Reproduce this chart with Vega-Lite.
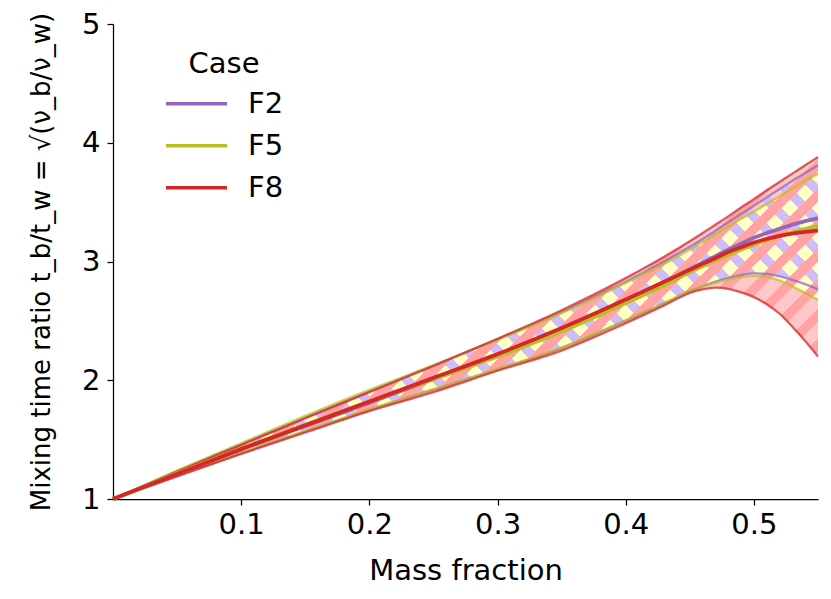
{
  "$schema": "https://vega.github.io/schema/vega-lite/v6.json",
  "autosize": {"type": "none"},
  "padding": {"left": 113, "top": 24, "right": 13, "bottom": 100},
  "width": 705,
  "height": 475,
  "background": "white",
  "config": {
    "view": {"stroke": null},
    "font": "DejaVu Sans",
    "axis": {
      "grid": false,
      "domainColor": "black",
      "tickColor": "black",
      "labelColor": "black",
      "titleColor": "black",
      "domainWidth": 1.25,
      "tickWidth": 1.25,
      "tickSize": 6,
      "labelFont": "DejaVu Sans",
      "titleFont": "DejaVu Sans",
      "labelFontSize": 29,
      "titleFontSize": 29,
      "titleFontWeight": "normal"
    },
    "legend": {
      "orient": "none",
      "legendX": 51,
      "legendY": 26,
      "titleFont": "DejaVu Sans",
      "labelFont": "DejaVu Sans",
      "titleFontSize": 29,
      "labelFontSize": 29,
      "titleFontWeight": "normal",
      "titleColor": "black",
      "labelColor": "black",
      "titleAnchor": "middle",
      "symbolType": "stroke",
      "symbolSize": 3721,
      "symbolStrokeWidth": 3.7,
      "symbolOpacity": 1,
      "labelOffset": 19,
      "clipHeight": 41.5,
      "rowPadding": 0,
      "titlePadding": 4
    }
  },
  "data": {
    "values": [
      {"case": "F2", "x": 0.0, "lo": 1.0, "mid": 1.0, "hi": 1.0},
      {"case": "F2", "x": 0.05, "lo": 1.195, "mid": 1.21, "hi": 1.235},
      {"case": "F2", "x": 0.1, "lo": 1.385, "mid": 1.42, "hi": 1.46},
      {"case": "F2", "x": 0.15, "lo": 1.57, "mid": 1.615, "hi": 1.685},
      {"case": "F2", "x": 0.2, "lo": 1.75, "mid": 1.81, "hi": 1.905},
      {"case": "F2", "x": 0.25, "lo": 1.92, "mid": 2.01, "hi": 2.125},
      {"case": "F2", "x": 0.3, "lo": 2.09, "mid": 2.21, "hi": 2.345},
      {"case": "F2", "x": 0.35, "lo": 2.27, "mid": 2.43, "hi": 2.575},
      {"case": "F2", "x": 0.4, "lo": 2.5, "mid": 2.67, "hi": 2.83},
      {"case": "F2", "x": 0.43, "lo": 2.645, "mid": 2.82, "hi": 3.0},
      {"case": "F2", "x": 0.45, "lo": 2.75, "mid": 2.935, "hi": 3.125},
      {"case": "F2", "x": 0.46, "lo": 2.79, "mid": 2.99, "hi": 3.19},
      {"case": "F2", "x": 0.47, "lo": 2.83, "mid": 3.045, "hi": 3.26},
      {"case": "F2", "x": 0.48, "lo": 2.86, "mid": 3.1, "hi": 3.33},
      {"case": "F2", "x": 0.49, "lo": 2.885, "mid": 3.15, "hi": 3.4},
      {"case": "F2", "x": 0.5, "lo": 2.9, "mid": 3.2, "hi": 3.47},
      {"case": "F2", "x": 0.51, "lo": 2.895, "mid": 3.24, "hi": 3.54},
      {"case": "F2", "x": 0.52, "lo": 2.875, "mid": 3.275, "hi": 3.61},
      {"case": "F2", "x": 0.53, "lo": 2.845, "mid": 3.31, "hi": 3.68},
      {"case": "F2", "x": 0.54, "lo": 2.81, "mid": 3.34, "hi": 3.745},
      {"case": "F2", "x": 0.55, "lo": 2.767, "mid": 3.365, "hi": 3.81},
      {"case": "F5", "x": 0.0, "lo": 1.0, "mid": 1.0, "hi": 1.0},
      {"case": "F5", "x": 0.05, "lo": 1.2, "mid": 1.215, "hi": 1.24},
      {"case": "F5", "x": 0.1, "lo": 1.39, "mid": 1.425, "hi": 1.47},
      {"case": "F5", "x": 0.15, "lo": 1.575, "mid": 1.625, "hi": 1.7},
      {"case": "F5", "x": 0.2, "lo": 1.755, "mid": 1.82, "hi": 1.92},
      {"case": "F5", "x": 0.25, "lo": 1.925, "mid": 2.01, "hi": 2.125},
      {"case": "F5", "x": 0.3, "lo": 2.095, "mid": 2.2, "hi": 2.34},
      {"case": "F5", "x": 0.35, "lo": 2.275, "mid": 2.41, "hi": 2.565},
      {"case": "F5", "x": 0.4, "lo": 2.505, "mid": 2.65, "hi": 2.82},
      {"case": "F5", "x": 0.43, "lo": 2.65, "mid": 2.8, "hi": 2.98},
      {"case": "F5", "x": 0.45, "lo": 2.75, "mid": 2.91, "hi": 3.1},
      {"case": "F5", "x": 0.46, "lo": 2.79, "mid": 2.96, "hi": 3.165},
      {"case": "F5", "x": 0.47, "lo": 2.82, "mid": 3.01, "hi": 3.23},
      {"case": "F5", "x": 0.48, "lo": 2.85, "mid": 3.055, "hi": 3.295},
      {"case": "F5", "x": 0.49, "lo": 2.87, "mid": 3.1, "hi": 3.36},
      {"case": "F5", "x": 0.5, "lo": 2.88, "mid": 3.14, "hi": 3.42},
      {"case": "F5", "x": 0.51, "lo": 2.87, "mid": 3.18, "hi": 3.485},
      {"case": "F5", "x": 0.52, "lo": 2.84, "mid": 3.215, "hi": 3.55},
      {"case": "F5", "x": 0.53, "lo": 2.79, "mid": 3.245, "hi": 3.615},
      {"case": "F5", "x": 0.54, "lo": 2.735, "mid": 3.275, "hi": 3.68},
      {"case": "F5", "x": 0.55, "lo": 2.676, "mid": 3.3, "hi": 3.74},
      {"case": "F8", "x": 0.0, "lo": 1.0, "mid": 1.0, "hi": 1.0},
      {"case": "F8", "x": 0.05, "lo": 1.19, "mid": 1.21, "hi": 1.23},
      {"case": "F8", "x": 0.1, "lo": 1.38, "mid": 1.42, "hi": 1.455},
      {"case": "F8", "x": 0.15, "lo": 1.56, "mid": 1.62, "hi": 1.68},
      {"case": "F8", "x": 0.2, "lo": 1.74, "mid": 1.82, "hi": 1.9},
      {"case": "F8", "x": 0.25, "lo": 1.9, "mid": 2.02, "hi": 2.12},
      {"case": "F8", "x": 0.3, "lo": 2.08, "mid": 2.22, "hi": 2.35},
      {"case": "F8", "x": 0.35, "lo": 2.25, "mid": 2.44, "hi": 2.59},
      {"case": "F8", "x": 0.4, "lo": 2.48, "mid": 2.68, "hi": 2.86},
      {"case": "F8", "x": 0.43, "lo": 2.63, "mid": 2.83, "hi": 3.04},
      {"case": "F8", "x": 0.45, "lo": 2.735, "mid": 2.93, "hi": 3.17},
      {"case": "F8", "x": 0.46, "lo": 2.765, "mid": 2.98, "hi": 3.24},
      {"case": "F8", "x": 0.47, "lo": 2.78, "mid": 3.03, "hi": 3.31},
      {"case": "F8", "x": 0.48, "lo": 2.77, "mid": 3.08, "hi": 3.38},
      {"case": "F8", "x": 0.49, "lo": 2.74, "mid": 3.12, "hi": 3.455},
      {"case": "F8", "x": 0.5, "lo": 2.7, "mid": 3.16, "hi": 3.525},
      {"case": "F8", "x": 0.51, "lo": 2.64, "mid": 3.19, "hi": 3.6},
      {"case": "F8", "x": 0.52, "lo": 2.56, "mid": 3.215, "hi": 3.67},
      {"case": "F8", "x": 0.53, "lo": 2.45, "mid": 3.235, "hi": 3.74},
      {"case": "F8", "x": 0.54, "lo": 2.33, "mid": 3.25, "hi": 3.81},
      {"case": "F8", "x": 0.55, "lo": 2.2, "mid": 3.26, "hi": 3.88}
    ]
  },
  "encoding": {
    "x": {
      "field": "x",
      "type": "quantitative",
      "scale": {"domain": [0, 0.55], "nice": false, "zero": false},
      "axis": {"title": "Mass fraction", "values": [0.1, 0.2, 0.3, 0.4, 0.5], "format": ".1f", "labelPadding": 5, "titlePadding": 17}
    }
  },
  "layer": [
    {
      "transform": [{"filter": "datum.case === 'F8'"}],
      "mark": {"type": "area", "interpolate": "monotone", "fill": "#ffc8c8"},
      "encoding": {
        "y": {"field": "lo", "type": "quantitative", "scale": {"domain": [1, 5], "nice": false, "zero": false},
          "axis": {"title": "Mixing time ratio t_b/t_w = √(ν_b/ν_w)", "titleFontSize": 26, "values": [1, 2, 3, 4, 5], "format": "d", "labelPadding": 7, "titlePadding": 27}},
        "y2": {"field": "hi"}
      }
    },
    {
      "transform": [{"filter": "datum.case === 'F5'"}],
      "mark": {"type": "area", "interpolate": "monotone", "fill": "#ffffc8"},
      "encoding": {"y": {"field": "lo", "type": "quantitative"}, "y2": {"field": "hi"}}
    },
    {
      "transform": [{"filter": "datum.case === 'F2'"}],
      "mark": {"type": "area", "interpolate": "monotone",
        "fill": {"gradient": "linear", "x1": 0, "y1": 1, "x2": 1.39, "y2": 0.341, "stops": [
          {"offset": 0, "color": "rgba(208,188,250,0)"},{"offset": 0.014, "color": "rgba(208,188,250,0)"},{"offset": 0.014, "color": "#d0bcfa"},{"offset": 0.025, "color": "#d0bcfa"},
          {"offset": 0.025, "color": "rgba(208,188,250,0)"},{"offset": 0.039, "color": "rgba(208,188,250,0)"},{"offset": 0.039, "color": "#d0bcfa"},{"offset": 0.05, "color": "#d0bcfa"},
          {"offset": 0.05, "color": "rgba(208,188,250,0)"},{"offset": 0.064, "color": "rgba(208,188,250,0)"},{"offset": 0.064, "color": "#d0bcfa"},{"offset": 0.075, "color": "#d0bcfa"},
          {"offset": 0.075, "color": "rgba(208,188,250,0)"},{"offset": 0.089, "color": "rgba(208,188,250,0)"},{"offset": 0.089, "color": "#d0bcfa"},{"offset": 0.1, "color": "#d0bcfa"},
          {"offset": 0.1, "color": "rgba(208,188,250,0)"},{"offset": 0.114, "color": "rgba(208,188,250,0)"},{"offset": 0.114, "color": "#d0bcfa"},{"offset": 0.125, "color": "#d0bcfa"},
          {"offset": 0.125, "color": "rgba(208,188,250,0)"},{"offset": 0.139, "color": "rgba(208,188,250,0)"},{"offset": 0.139, "color": "#d0bcfa"},{"offset": 0.15, "color": "#d0bcfa"},
          {"offset": 0.15, "color": "rgba(208,188,250,0)"},{"offset": 0.164, "color": "rgba(208,188,250,0)"},{"offset": 0.164, "color": "#d0bcfa"},{"offset": 0.175, "color": "#d0bcfa"},
          {"offset": 0.175, "color": "rgba(208,188,250,0)"},{"offset": 0.189, "color": "rgba(208,188,250,0)"},{"offset": 0.189, "color": "#d0bcfa"},{"offset": 0.2, "color": "#d0bcfa"},
          {"offset": 0.2, "color": "rgba(208,188,250,0)"},{"offset": 0.214, "color": "rgba(208,188,250,0)"},{"offset": 0.214, "color": "#d0bcfa"},{"offset": 0.225, "color": "#d0bcfa"},
          {"offset": 0.225, "color": "rgba(208,188,250,0)"},{"offset": 0.239, "color": "rgba(208,188,250,0)"},{"offset": 0.239, "color": "#d0bcfa"},{"offset": 0.25, "color": "#d0bcfa"},
          {"offset": 0.25, "color": "rgba(208,188,250,0)"},{"offset": 0.264, "color": "rgba(208,188,250,0)"},{"offset": 0.264, "color": "#d0bcfa"},{"offset": 0.275, "color": "#d0bcfa"},
          {"offset": 0.275, "color": "rgba(208,188,250,0)"},{"offset": 0.289, "color": "rgba(208,188,250,0)"},{"offset": 0.289, "color": "#d0bcfa"},{"offset": 0.3, "color": "#d0bcfa"},
          {"offset": 0.3, "color": "rgba(208,188,250,0)"},{"offset": 0.314, "color": "rgba(208,188,250,0)"},{"offset": 0.314, "color": "#d0bcfa"},{"offset": 0.325, "color": "#d0bcfa"},
          {"offset": 0.325, "color": "rgba(208,188,250,0)"},{"offset": 0.339, "color": "rgba(208,188,250,0)"},{"offset": 0.339, "color": "#d0bcfa"},{"offset": 0.35, "color": "#d0bcfa"},
          {"offset": 0.35, "color": "rgba(208,188,250,0)"},{"offset": 0.364, "color": "rgba(208,188,250,0)"},{"offset": 0.364, "color": "#d0bcfa"},{"offset": 0.375, "color": "#d0bcfa"},
          {"offset": 0.375, "color": "rgba(208,188,250,0)"},{"offset": 0.389, "color": "rgba(208,188,250,0)"},{"offset": 0.389, "color": "#d0bcfa"},{"offset": 0.4, "color": "#d0bcfa"},
          {"offset": 0.4, "color": "rgba(208,188,250,0)"},{"offset": 0.414, "color": "rgba(208,188,250,0)"},{"offset": 0.414, "color": "#d0bcfa"},{"offset": 0.425, "color": "#d0bcfa"},
          {"offset": 0.425, "color": "rgba(208,188,250,0)"},{"offset": 0.439, "color": "rgba(208,188,250,0)"},{"offset": 0.439, "color": "#d0bcfa"},{"offset": 0.45, "color": "#d0bcfa"},
          {"offset": 0.45, "color": "rgba(208,188,250,0)"},{"offset": 0.464, "color": "rgba(208,188,250,0)"},{"offset": 0.464, "color": "#d0bcfa"},{"offset": 0.475, "color": "#d0bcfa"},
          {"offset": 0.475, "color": "rgba(208,188,250,0)"},{"offset": 0.489, "color": "rgba(208,188,250,0)"},{"offset": 0.489, "color": "#d0bcfa"},{"offset": 0.5, "color": "#d0bcfa"},
          {"offset": 0.5, "color": "rgba(208,188,250,0)"},{"offset": 0.514, "color": "rgba(208,188,250,0)"},{"offset": 0.514, "color": "#d0bcfa"},{"offset": 0.525, "color": "#d0bcfa"},
          {"offset": 0.525, "color": "rgba(208,188,250,0)"},{"offset": 0.539, "color": "rgba(208,188,250,0)"},{"offset": 0.539, "color": "#d0bcfa"},{"offset": 0.55, "color": "#d0bcfa"},
          {"offset": 0.55, "color": "rgba(208,188,250,0)"},{"offset": 0.564, "color": "rgba(208,188,250,0)"},{"offset": 0.564, "color": "#d0bcfa"},{"offset": 0.575, "color": "#d0bcfa"},
          {"offset": 0.575, "color": "rgba(208,188,250,0)"},{"offset": 0.589, "color": "rgba(208,188,250,0)"},{"offset": 0.589, "color": "#d0bcfa"},{"offset": 0.6, "color": "#d0bcfa"},
          {"offset": 0.6, "color": "rgba(208,188,250,0)"},{"offset": 0.614, "color": "rgba(208,188,250,0)"},{"offset": 0.614, "color": "#d0bcfa"},{"offset": 0.625, "color": "#d0bcfa"},
          {"offset": 0.625, "color": "rgba(208,188,250,0)"},{"offset": 0.639, "color": "rgba(208,188,250,0)"},{"offset": 0.639, "color": "#d0bcfa"},{"offset": 0.65, "color": "#d0bcfa"},
          {"offset": 0.65, "color": "rgba(208,188,250,0)"},{"offset": 0.664, "color": "rgba(208,188,250,0)"},{"offset": 0.664, "color": "#d0bcfa"},{"offset": 0.675, "color": "#d0bcfa"},
          {"offset": 0.675, "color": "rgba(208,188,250,0)"},{"offset": 0.689, "color": "rgba(208,188,250,0)"},{"offset": 0.689, "color": "#d0bcfa"},{"offset": 0.7, "color": "#d0bcfa"},
          {"offset": 0.7, "color": "rgba(208,188,250,0)"},{"offset": 0.714, "color": "rgba(208,188,250,0)"},{"offset": 0.714, "color": "#d0bcfa"},{"offset": 0.725, "color": "#d0bcfa"},
          {"offset": 0.725, "color": "rgba(208,188,250,0)"},{"offset": 0.739, "color": "rgba(208,188,250,0)"},{"offset": 0.739, "color": "#d0bcfa"},{"offset": 0.75, "color": "#d0bcfa"},
          {"offset": 0.75, "color": "rgba(208,188,250,0)"},{"offset": 0.764, "color": "rgba(208,188,250,0)"},{"offset": 0.764, "color": "#d0bcfa"},{"offset": 0.775, "color": "#d0bcfa"},
          {"offset": 0.775, "color": "rgba(208,188,250,0)"},{"offset": 0.789, "color": "rgba(208,188,250,0)"},{"offset": 0.789, "color": "#d0bcfa"},{"offset": 0.8, "color": "#d0bcfa"},
          {"offset": 0.8, "color": "rgba(208,188,250,0)"},{"offset": 0.814, "color": "rgba(208,188,250,0)"},{"offset": 0.814, "color": "#d0bcfa"},{"offset": 0.825, "color": "#d0bcfa"},
          {"offset": 0.825, "color": "rgba(208,188,250,0)"},{"offset": 0.839, "color": "rgba(208,188,250,0)"},{"offset": 0.839, "color": "#d0bcfa"},{"offset": 0.85, "color": "#d0bcfa"},
          {"offset": 0.85, "color": "rgba(208,188,250,0)"},{"offset": 0.864, "color": "rgba(208,188,250,0)"},{"offset": 0.864, "color": "#d0bcfa"},{"offset": 0.875, "color": "#d0bcfa"},
          {"offset": 0.875, "color": "rgba(208,188,250,0)"},{"offset": 0.889, "color": "rgba(208,188,250,0)"},{"offset": 0.889, "color": "#d0bcfa"},{"offset": 0.9, "color": "#d0bcfa"},
          {"offset": 0.9, "color": "rgba(208,188,250,0)"},{"offset": 1, "color": "rgba(208,188,250,0)"}
        ]}},
      "encoding": {"y": {"field": "lo", "type": "quantitative"}, "y2": {"field": "hi"}}
    },
    {
      "transform": [{"filter": "datum.case === 'F8'"}],
      "mark": {"type": "area", "interpolate": "monotone",
        "fill": {"gradient": "linear", "x1": 0, "y1": 0, "x2": 1.378, "y2": 0.668, "stops": [
          {"offset": 0, "color": "rgba(255,163,163,0)"},{"offset": 0.014, "color": "rgba(255,163,163,0)"},{"offset": 0.014, "color": "#ffa3a3"},{"offset": 0.025, "color": "#ffa3a3"},
          {"offset": 0.025, "color": "rgba(255,163,163,0)"},{"offset": 0.039, "color": "rgba(255,163,163,0)"},{"offset": 0.039, "color": "#ffa3a3"},{"offset": 0.05, "color": "#ffa3a3"},
          {"offset": 0.05, "color": "rgba(255,163,163,0)"},{"offset": 0.064, "color": "rgba(255,163,163,0)"},{"offset": 0.064, "color": "#ffa3a3"},{"offset": 0.075, "color": "#ffa3a3"},
          {"offset": 0.075, "color": "rgba(255,163,163,0)"},{"offset": 0.089, "color": "rgba(255,163,163,0)"},{"offset": 0.089, "color": "#ffa3a3"},{"offset": 0.1, "color": "#ffa3a3"},
          {"offset": 0.1, "color": "rgba(255,163,163,0)"},{"offset": 0.114, "color": "rgba(255,163,163,0)"},{"offset": 0.114, "color": "#ffa3a3"},{"offset": 0.125, "color": "#ffa3a3"},
          {"offset": 0.125, "color": "rgba(255,163,163,0)"},{"offset": 0.139, "color": "rgba(255,163,163,0)"},{"offset": 0.139, "color": "#ffa3a3"},{"offset": 0.15, "color": "#ffa3a3"},
          {"offset": 0.15, "color": "rgba(255,163,163,0)"},{"offset": 0.164, "color": "rgba(255,163,163,0)"},{"offset": 0.164, "color": "#ffa3a3"},{"offset": 0.175, "color": "#ffa3a3"},
          {"offset": 0.175, "color": "rgba(255,163,163,0)"},{"offset": 0.189, "color": "rgba(255,163,163,0)"},{"offset": 0.189, "color": "#ffa3a3"},{"offset": 0.2, "color": "#ffa3a3"},
          {"offset": 0.2, "color": "rgba(255,163,163,0)"},{"offset": 0.214, "color": "rgba(255,163,163,0)"},{"offset": 0.214, "color": "#ffa3a3"},{"offset": 0.225, "color": "#ffa3a3"},
          {"offset": 0.225, "color": "rgba(255,163,163,0)"},{"offset": 0.239, "color": "rgba(255,163,163,0)"},{"offset": 0.239, "color": "#ffa3a3"},{"offset": 0.25, "color": "#ffa3a3"},
          {"offset": 0.25, "color": "rgba(255,163,163,0)"},{"offset": 0.264, "color": "rgba(255,163,163,0)"},{"offset": 0.264, "color": "#ffa3a3"},{"offset": 0.275, "color": "#ffa3a3"},
          {"offset": 0.275, "color": "rgba(255,163,163,0)"},{"offset": 0.289, "color": "rgba(255,163,163,0)"},{"offset": 0.289, "color": "#ffa3a3"},{"offset": 0.3, "color": "#ffa3a3"},
          {"offset": 0.3, "color": "rgba(255,163,163,0)"},{"offset": 0.314, "color": "rgba(255,163,163,0)"},{"offset": 0.314, "color": "#ffa3a3"},{"offset": 0.325, "color": "#ffa3a3"},
          {"offset": 0.325, "color": "rgba(255,163,163,0)"},{"offset": 0.339, "color": "rgba(255,163,163,0)"},{"offset": 0.339, "color": "#ffa3a3"},{"offset": 0.35, "color": "#ffa3a3"},
          {"offset": 0.35, "color": "rgba(255,163,163,0)"},{"offset": 0.364, "color": "rgba(255,163,163,0)"},{"offset": 0.364, "color": "#ffa3a3"},{"offset": 0.375, "color": "#ffa3a3"},
          {"offset": 0.375, "color": "rgba(255,163,163,0)"},{"offset": 0.389, "color": "rgba(255,163,163,0)"},{"offset": 0.389, "color": "#ffa3a3"},{"offset": 0.4, "color": "#ffa3a3"},
          {"offset": 0.4, "color": "rgba(255,163,163,0)"},{"offset": 0.414, "color": "rgba(255,163,163,0)"},{"offset": 0.414, "color": "#ffa3a3"},{"offset": 0.425, "color": "#ffa3a3"},
          {"offset": 0.425, "color": "rgba(255,163,163,0)"},{"offset": 0.439, "color": "rgba(255,163,163,0)"},{"offset": 0.439, "color": "#ffa3a3"},{"offset": 0.45, "color": "#ffa3a3"},
          {"offset": 0.45, "color": "rgba(255,163,163,0)"},{"offset": 0.464, "color": "rgba(255,163,163,0)"},{"offset": 0.464, "color": "#ffa3a3"},{"offset": 0.475, "color": "#ffa3a3"},
          {"offset": 0.475, "color": "rgba(255,163,163,0)"},{"offset": 0.489, "color": "rgba(255,163,163,0)"},{"offset": 0.489, "color": "#ffa3a3"},{"offset": 0.5, "color": "#ffa3a3"},
          {"offset": 0.5, "color": "rgba(255,163,163,0)"},{"offset": 0.514, "color": "rgba(255,163,163,0)"},{"offset": 0.514, "color": "#ffa3a3"},{"offset": 0.525, "color": "#ffa3a3"},
          {"offset": 0.525, "color": "rgba(255,163,163,0)"},{"offset": 0.539, "color": "rgba(255,163,163,0)"},{"offset": 0.539, "color": "#ffa3a3"},{"offset": 0.55, "color": "#ffa3a3"},
          {"offset": 0.55, "color": "rgba(255,163,163,0)"},{"offset": 0.564, "color": "rgba(255,163,163,0)"},{"offset": 0.564, "color": "#ffa3a3"},{"offset": 0.575, "color": "#ffa3a3"},
          {"offset": 0.575, "color": "rgba(255,163,163,0)"},{"offset": 0.589, "color": "rgba(255,163,163,0)"},{"offset": 0.589, "color": "#ffa3a3"},{"offset": 0.6, "color": "#ffa3a3"},
          {"offset": 0.6, "color": "rgba(255,163,163,0)"},{"offset": 0.614, "color": "rgba(255,163,163,0)"},{"offset": 0.614, "color": "#ffa3a3"},{"offset": 0.625, "color": "#ffa3a3"},
          {"offset": 0.625, "color": "rgba(255,163,163,0)"},{"offset": 0.639, "color": "rgba(255,163,163,0)"},{"offset": 0.639, "color": "#ffa3a3"},{"offset": 0.65, "color": "#ffa3a3"},
          {"offset": 0.65, "color": "rgba(255,163,163,0)"},{"offset": 0.664, "color": "rgba(255,163,163,0)"},{"offset": 0.664, "color": "#ffa3a3"},{"offset": 0.675, "color": "#ffa3a3"},
          {"offset": 0.675, "color": "rgba(255,163,163,0)"},{"offset": 0.689, "color": "rgba(255,163,163,0)"},{"offset": 0.689, "color": "#ffa3a3"},{"offset": 0.7, "color": "#ffa3a3"},
          {"offset": 0.7, "color": "rgba(255,163,163,0)"},{"offset": 0.714, "color": "rgba(255,163,163,0)"},{"offset": 0.714, "color": "#ffa3a3"},{"offset": 0.725, "color": "#ffa3a3"},
          {"offset": 0.725, "color": "rgba(255,163,163,0)"},{"offset": 0.739, "color": "rgba(255,163,163,0)"},{"offset": 0.739, "color": "#ffa3a3"},{"offset": 0.75, "color": "#ffa3a3"},
          {"offset": 0.75, "color": "rgba(255,163,163,0)"},{"offset": 0.764, "color": "rgba(255,163,163,0)"},{"offset": 0.764, "color": "#ffa3a3"},{"offset": 0.775, "color": "#ffa3a3"},
          {"offset": 0.775, "color": "rgba(255,163,163,0)"},{"offset": 0.789, "color": "rgba(255,163,163,0)"},{"offset": 0.789, "color": "#ffa3a3"},{"offset": 0.8, "color": "#ffa3a3"},
          {"offset": 0.8, "color": "rgba(255,163,163,0)"},{"offset": 0.814, "color": "rgba(255,163,163,0)"},{"offset": 0.814, "color": "#ffa3a3"},{"offset": 0.825, "color": "#ffa3a3"},
          {"offset": 0.825, "color": "rgba(255,163,163,0)"},{"offset": 0.839, "color": "rgba(255,163,163,0)"},{"offset": 0.839, "color": "#ffa3a3"},{"offset": 0.85, "color": "#ffa3a3"},
          {"offset": 0.85, "color": "rgba(255,163,163,0)"},{"offset": 0.864, "color": "rgba(255,163,163,0)"},{"offset": 0.864, "color": "#ffa3a3"},{"offset": 0.875, "color": "#ffa3a3"},
          {"offset": 0.875, "color": "rgba(255,163,163,0)"},{"offset": 0.889, "color": "rgba(255,163,163,0)"},{"offset": 0.889, "color": "#ffa3a3"},{"offset": 0.9, "color": "#ffa3a3"},
          {"offset": 0.9, "color": "rgba(255,163,163,0)"},{"offset": 1, "color": "rgba(255,163,163,0)"}
        ]}},
      "encoding": {"y": {"field": "lo", "type": "quantitative"}, "y2": {"field": "hi"}}
    },
    {
      "mark": {"type": "line", "interpolate": "monotone", "strokeWidth": 2.3, "opacity": 0.75},
      "encoding": {
        "y": {"field": "lo", "type": "quantitative"},
        "color": {"field": "case", "type": "nominal", "scale": {"domain": ["F2", "F5", "F8"], "range": ["#9467bd", "#bcbd22", "#d62728"]}, "legend": {"title": "Case"}}
      }
    },
    {
      "mark": {"type": "line", "interpolate": "monotone", "strokeWidth": 2.3, "opacity": 0.75},
      "encoding": {
        "y": {"field": "hi", "type": "quantitative"},
        "color": {"field": "case", "type": "nominal", "legend": {"title": "Case"}}
      }
    },
    {
      "mark": {"type": "line", "interpolate": "monotone", "strokeWidth": 3.8},
      "encoding": {
        "y": {"field": "mid", "type": "quantitative"},
        "color": {"field": "case", "type": "nominal", "legend": {"title": "Case"}}
      }
    }
  ]
}
